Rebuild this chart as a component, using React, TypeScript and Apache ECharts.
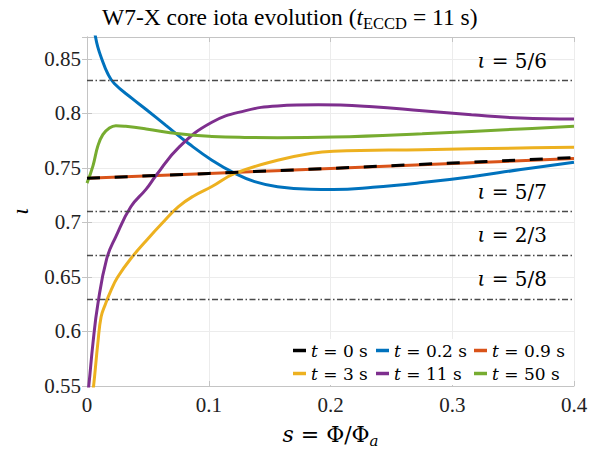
import React, { useEffect, useRef } from "react";
import * as echarts from "echarts";

const FONT = "Liberation Serif, serif";
const WIDE = "DejaVu Serif, serif";

// t = 0 s (black dashed) and t = 0.9 s (orange)
const sT0 = [0, 0.1, 0.2, 0.3, 0.4];
const iotaT0 = [0.7404, 0.7449, 0.7495, 0.7545, 0.7595];
const sT09 = [0, 0.1, 0.2, 0.3, 0.4];
const iotaT09 = [0.7404, 0.7449, 0.7494, 0.754, 0.7585];

// t = 0.2 s (blue)
const sT02 = [0.004, 0.007, 0.0089, 0.0116, 0.017, 0.0224, 0.0372, 0.0486, 0.0648, 0.0837, 0.1026, 0.1215, 0.1377, 0.1565, 0.1835, 0.2024, 0.2348, 0.2753, 0.3158, 0.3563, 0.4];
const iotaT02 = [0.89, 0.87, 0.8607, 0.8515, 0.8365, 0.8274, 0.8135, 0.8035, 0.789, 0.7721, 0.757, 0.7449, 0.7374, 0.7327, 0.7304, 0.7302, 0.7322, 0.7365, 0.7419, 0.7485, 0.7551];

// t = 3 s (yellow)
const sT3 = [0.004, 0.0054, 0.0089, 0.0116, 0.0151, 0.0197, 0.0251, 0.0359, 0.0508, 0.0615, 0.0749, 0.088, 0.1026, 0.1215, 0.1565, 0.1835, 0.2024, 0.2753, 0.3563, 0.4];
const iotaT3 = [0.54, 0.55, 0.5893, 0.6135, 0.625, 0.6377, 0.6497, 0.6667, 0.686, 0.699, 0.7143, 0.7245, 0.7329, 0.7449, 0.757, 0.7631, 0.7652, 0.7667, 0.7682, 0.7689];

// t = 11 s (purple)
const sT11 = [0.0008, 0.0016, 0.0049, 0.0089, 0.0162, 0.0237, 0.036, 0.0486, 0.0567, 0.0756, 0.1026, 0.1296, 0.1565, 0.19, 0.2348, 0.2753, 0.3158, 0.3563, 0.4];
const iotaT11 = [0.545, 0.5515, 0.5893, 0.625, 0.6667, 0.687, 0.7143, 0.7305, 0.743, 0.7691, 0.7918, 0.8023, 0.8068, 0.8078, 0.806, 0.8023, 0.7987, 0.7957, 0.7948];

// t = 50 s (green)
const sT50 = [0, 0.0049, 0.0089, 0.013, 0.0184, 0.0237, 0.0318, 0.0486, 0.0756, 0.1026, 0.1296, 0.1565, 0.2024, 0.2753, 0.3563, 0.4];
const iotaT50 = [0.736, 0.7519, 0.77, 0.7805, 0.7866, 0.7887, 0.7881, 0.7857, 0.7812, 0.7788, 0.7779, 0.7777, 0.7782, 0.7812, 0.7857, 0.7881];

// rational surfaces
const rationalValues = [5 / 6, 5 / 7, 2 / 3, 5 / 8];
const rationalLabels = ["5/6", "5/7", "2/3", "5/8"];

const seriesNames = ["t = 0 s", "t = 0.2 s", "t = 0.9 s", "t = 3 s", "t = 11 s", "t = 50 s"];
const seriesColors = ["#000000", "#0072BD", "#D95319", "#EDB120", "#7E2F8E", "#77AC30"];

const pairs = (s: number[], v: number[]) => s.map((x, i) => [x, v[i]]);

const GRID_LEFT = 80;
const GRID_RIGHT = 24;
const GRID_TOP = 37;
const GRID_BOTTOM = 63;

const txt = (size: number, extra: any = {}) => ({
  fontFamily: FONT,
  fontSize: size,
  fontWeight: "normal",
  fontStyle: "normal",
  color: "#000",
  ...extra,
});

export default function App() {
  const ref = useRef<HTMLDivElement>(null);
  useEffect(() => {
    if (!ref.current) return;
    const chart = echarts.init(ref.current, undefined, { renderer: "svg" });

    const axisGray = "#c4c4c4";
    const lineSeries = (idx: number, s: number[], v: number[], extra: any = {}) => ({
      type: "line",
      name: seriesNames[idx],
      data: pairs(s, v),
      showSymbol: false,
      symbol: "none",
      smooth: 0.45,
      clip: true,
      itemStyle: { color: seriesColors[idx] },
      lineStyle: { color: seriesColors[idx], width: 3 },
      ...extra,
    });

    const legendFormatter = (name: string) => name.replace(/^t/, "{i|t}");
    const mkLegend = (names: string[], left: number) => ({
      data: names,
      orient: "vertical",
      left,
      top: 339,
      icon: "rect",
      itemWidth: 13,
      itemHeight: 3.5,
      itemGap: 6,
      padding: [3, 2, 3, 0],
      backgroundColor: "#ffffff",
      formatter: legendFormatter,
      textStyle: txt(17, {
        fontFamily: WIDE,
        rich: { i: txt(17, { fontFamily: WIDE, fontStyle: "italic" }) },
      }),
    });

    const option: any = {
      animation: false,
      backgroundColor: "#ffffff",
      textStyle: { fontFamily: FONT, fontWeight: "normal" },
      title: {
        text: "W7-X core iota evolution ({i|t}{sub|ECCD} = 11 s)",
        left: 97,
        top: -3,
        textStyle: txt(23.5, {
          lineHeight: 30,
          rich: {
            i: txt(23.5, { fontStyle: "italic", lineHeight: 30 }),
            sub: txt(16.5, { verticalAlign: "bottom", lineHeight: 14 }),
          },
        }),
      },
      grid: { left: GRID_LEFT, right: GRID_RIGHT, top: GRID_TOP, bottom: GRID_BOTTOM, containLabel: false },
      legend: [
        mkLegend([seriesNames[0], seriesNames[3]], 293),
        mkLegend([seriesNames[1], seriesNames[4]], 376),
        mkLegend([seriesNames[2], seriesNames[5]], 474),
      ],
      xAxis: [
        {
          type: "value",
          min: 0,
          max: 0.4,
          interval: 0.1,
          position: "bottom",
          name: "{i|s} = Φ/Φ{sub|a}",
          nameLocation: "middle",
          nameGap: 34,
          nameTextStyle: txt(22, {
            fontFamily: WIDE,
            lineHeight: 28,
            rich: {
              i: txt(22, { fontFamily: WIDE, fontStyle: "italic", lineHeight: 28 }),
              sub: txt(15, { fontFamily: WIDE, fontStyle: "italic", verticalAlign: "bottom", lineHeight: 13 }),
            },
          }),
          axisLine: { show: true, lineStyle: { color: axisGray, width: 1 } },
          axisTick: { show: true, inside: true, length: 5, lineStyle: { color: axisGray } },
          axisLabel: {
            ...txt(21, { color: "#222" }),
            margin: 8,
            formatter: (v: number) => (v === 0 ? "0" : String(Math.round(v * 10) / 10)),
          },
          splitLine: { show: true, lineStyle: { color: "#ececec", width: 1 } },
        },
        {
          type: "value",
          min: 0,
          max: 0.4,
          interval: 0.1,
          position: "top",
          axisLine: { show: true, lineStyle: { color: axisGray, width: 1 } },
          axisTick: { show: true, inside: true, length: 5, lineStyle: { color: axisGray } },
          axisLabel: { show: false },
          splitLine: { show: false },
        },
      ],
      yAxis: [
        {
          type: "value",
          min: 0.55,
          max: 0.87,
          interval: 0.05,
          position: "left",
          name: "ι",
          nameLocation: "middle",
          nameRotate: 90,
          nameGap: 55,
          nameTextStyle: txt(24, { fontStyle: "italic" }),
          axisLine: { show: true, lineStyle: { color: axisGray, width: 1 } },
          axisTick: { show: true, inside: true, length: 5, lineStyle: { color: axisGray } },
          axisLabel: {
            ...txt(21, { color: "#222" }),
            margin: 6,
            showMaxLabel: false,
            formatter: (v: number) => String(Math.round(v * 100) / 100),
          },
          splitLine: { show: true, lineStyle: { color: "#ececec", width: 1 } },
        },
        {
          type: "value",
          min: 0.55,
          max: 0.87,
          interval: 0.05,
          position: "right",
          axisLine: { show: true, lineStyle: { color: axisGray, width: 1 } },
          axisTick: { show: true, inside: true, length: 5, lineStyle: { color: axisGray } },
          axisLabel: { show: false },
          splitLine: { show: false },
        },
      ],
      series: [
        {
          type: "line",
          name: "rational",
          data: [],
          silent: true,
          markLine: {
            silent: true,
            symbol: ["none", "none"],
            animation: false,
            lineStyle: { color: "#4a4a4a", width: 1.4, type: [6, 2.5, 1.5, 2.5] },
            label: {
              show: true,
              position: "insideEndTop",
              distance: [27, 10],
              ...txt(20, { fontFamily: WIDE }),
              rich: { i: txt(20, { fontFamily: WIDE, fontStyle: "italic" }) },
            },
            data: rationalValues.map((v, i) => ({
              yAxis: v,
              label: { formatter: `{i|ι} = ${rationalLabels[i]}` },
            })),
          },
        },
        lineSeries(2, sT09, iotaT09),
        lineSeries(0, sT0, iotaT0, {
          z: 4,
          smooth: false,
          lineStyle: { color: seriesColors[0], width: 3, type: [13, 14.7] },
        }),
        lineSeries(1, sT02, iotaT02),
        lineSeries(3, sT3, iotaT3),
        lineSeries(4, sT11, iotaT11),
        lineSeries(5, sT50, iotaT50),
      ],
    };
    chart.setOption(option);
    return () => chart.dispose();
  }, []);
  return <div ref={ref} style={{ width: 598, height: 453, position: "absolute", left: 0, top: 0 }} />;
}
